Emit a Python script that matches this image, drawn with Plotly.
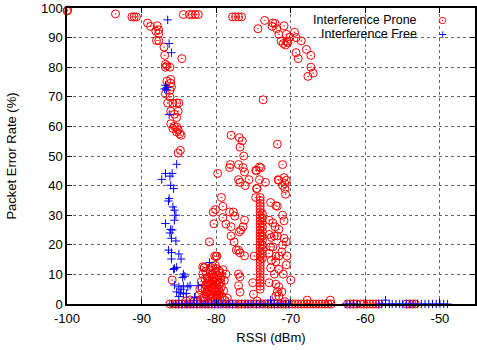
import plotly.graph_objects as go

# ---------------- data ----------------
prone_x = [
    -100.0, -99.9, -93.5, -91.3, -91.0, -90.7,
    -89.2, -88.8, -87.9, -87.7, -88.1, -87.7, -88.0, -87.7,
    -87.0, -86.9, -84.6, -86.8, -86.6, -86.8, -86.2,
    -86.1, -86.6, -86.1, -86.0, -86.2, -86.8, -86.2,
    -86.5, -85.8, -85.3, -85.0, -86.1, -85.1, -85.6, -85.3,
    -86.1, -85.6, -85.8, -85.3, -85.1, -85.3, -84.9, -84.7,
    -85.1, -84.8,
    -84.4, -83.6, -83.2, -82.8, -82.4,
    -77.8, -77.4, -77.0, -76.6,
    -74.4, -73.5, -72.4, -72.1, -72.5, -71.9, -71.6, -70.9, -70.6, -71.3, -70.5,
    -71.0, -70.7, -70.4, -70.1, -69.5, -69.3, -68.6, -69.3, -69.0, -67.9, -67.3,
    -67.3, -67.0, -67.7, -73.7,
    -78.0, -76.9, -76.5, -76.8, -76.3, -71.8,
    -78.1, -78.2, -77.0, -76.4, -71.1, -79.8, -74.6, -74.0, -77.0, -76.8, -76.1,
    -75.6, -74.2, -73.4, -74.5, -71.7, -71.1, -70.8, -70.7, -79.3, -79.1, -80.1,
    -80.4, -80.3, -78.2, -77.7, -77.5, -79.1, -78.7, -78.0, -76.2, -76.4, -76.7,
    -76.9, -78.0, -77.6, -80.9, -77.3, -77.0, -76.8, -76.2, -74.9, -80.2, -79.9,
    -81.6, -78.7, -77.0, -76.8, -77.0, -76.8, -75.1, -75.0, -76.2, -74.6,
    -74.1, -74.1, -74.1, -74.1, -74.1, -74.1, -74.1, -74.1, -74.1, -74.1, -74.1,
    -74.1, -74.1, -74.1, -74.1, -74.1, -74.1, -74.1, -74.1, -74.1, -74.1, -74.1,
    -74.1, -74.1, -74.1, -74.1, -74.1, -74.1, -74.1, -74.1, -74.1, -74.1,
    -73.8, -73.8, -73.8, -73.8, -73.8, -73.8, -73.8, -73.8, -73.8, -73.8, -73.8,
    -74.7, -72.7, -72.0, -71.8, -71.1, -70.9, -72.9, -72.4, -72.1, -71.6, -72.9,
    -72.6, -72.2, -71.8, -70.9, -70.6, -71.1, -72.7, -72.4, -72.9, -72.0, -71.6,
    -71.2, -70.5, -72.6, -72.0, -70.6, -72.7, -71.6, -72.2, -71.0, -70.0, -72.9,
    -72.0, -71.6, -71.8, -71.2, -72.0, -71.6, -70.9, -70.6, -70.8, -71.6, -74.7,
    -74.2,
    -81.8, -81.5, -81.2, -80.8, -80.5, -80.3, -80.1, -79.9, -79.7, -79.5, -80.6,
    -80.9, -81.3, -81.7, -82.1, -80.4, -79.8, -79.3, -79.6, -80.0, -80.7, -81.0,
    -79.4, -79.2, -80.2, -80.8, -81.9, -82.3, -79.1, -79.9, -80.4, -81.1, -80.6,
    -79.6, -82.5, -83.0, -83.5, -84.0, -78.8, -78.5, -79.3, -80.0, -81.4, -85.9,
    -81.6, -80.0,
    -81.6, -81.3, -81.0, -80.7, -80.4, -80.1, -79.8, -79.5, -81.5, -81.2, -80.9,
    -80.6, -80.3, -80.0, -79.7, -79.4, -81.4, -81.1, -80.8, -80.5, -80.2, -79.9,
    -79.6, -82.0, -82.2, -81.8, -79.0, -78.9, -80.5, -80.1,
    -86.2, -85.8, -85.4, -85.0, -84.6, -84.2, -83.8, -83.4, -83.0, -82.6, -82.2,
    -81.8, -81.4, -81.0, -80.6, -80.2, -79.8, -79.4, -79.0, -78.6, -78.2, -77.8,
    -77.4, -77.0, -76.6, -76.2, -75.8, -75.4, -75.0, -74.6, -74.2, -73.8, -73.4,
    -73.0, -72.6, -72.2, -71.8, -71.4, -71.0, -70.6, -70.2, -69.8, -69.4, -69.0,
    -68.6, -68.2, -67.8, -67.4, -67.0, -66.6, -66.2, -65.8, -65.4, -65.0, -64.6,
    -62.4, -62.0, -61.6, -61.2, -60.6, -60.2, -59.8, -59.4, -59.0, -58.6, -58.2,
    -54.5, -54.1, -53.7, -53.3,
    -67.8, -64.7, -74.5, -70.8,
]
prone_y = [
    99.0, 99.3, 98.0, 97.0, 97.0, 97.0,
    94.9, 93.8, 94.0, 92.6, 92.2, 91.3, 89.0, 89.0,
    86.8, 84.0, 82.9, 81.0, 80.5, 80.0, 80.0,
    75.9, 75.3, 74.6, 73.3, 72.2, 71.0, 69.9,
    67.9, 67.9, 67.9, 67.9, 65.1, 65.1, 64.1, 63.0,
    60.9, 60.0, 59.3, 59.8, 58.8, 58.1, 57.5, 57.0,
    51.0, 51.9,
    97.8, 97.8, 97.8, 97.8, 97.8,
    97.0, 97.0, 97.0, 97.0,
    93.0, 95.8, 94.9, 94.8, 93.8, 93.0, 91.1, 94.0, 91.1, 88.8, 88.8,
    88.0, 87.5, 88.3, 90.2, 91.8, 90.0, 88.9, 84.9, 82.9, 86.0, 84.0,
    80.0, 78.0, 76.9, 69.0,
    57.0, 56.2, 55.1, 53.0, 50.0, 54.0,
    47.1, 46.1, 47.1, 46.1, 47.1, 44.1, 45.0, 46.0, 42.0, 41.1, 40.0,
    42.0, 42.0, 41.1, 39.0, 42.0, 40.1, 39.0, 37.1, 36.0, 33.0, 31.9,
    31.0, 27.1, 31.1, 31.1, 29.7, 29.2, 27.0, 26.1, 28.3, 26.1, 25.0,
    24.4, 23.0, 21.0, 21.0, 18.2, 18.2, 17.3, 16.3, 16.2, 16.2, 16.2,
    12.4, 10.1, 10.1, 9.2, 6.2, 4.0, 7.2, 3.3, 44.6, 39.0,
    36.0, 35.0, 34.0, 33.0, 32.0, 31.0, 30.0, 29.0, 28.0, 27.0, 26.0,
    25.0, 24.0, 23.0, 22.0, 21.0, 20.0, 19.0, 18.0, 17.0, 16.0, 15.0,
    14.0, 13.0, 12.0, 11.0, 10.0, 9.0, 8.0, 7.0, 6.0, 5.0,
    30.5, 29.0, 27.5, 26.0, 24.5, 23.0, 21.5, 20.0, 18.5, 17.0, 15.5,
    36.0, 34.3, 33.2, 33.0, 30.0, 28.1, 28.3, 27.4, 26.1, 25.2, 23.5,
    22.5, 23.0, 23.0, 22.2, 21.0, 19.9, 19.3, 19.3, 17.1, 16.2, 16.2,
    17.6, 16.2, 14.8, 14.3, 13.2, 12.2, 11.7, 10.1, 10.1, 8.1, 7.2,
    6.7, 5.8, 4.1, 4.1, 2.7, 2.7, 42.7, 41.8, 40.7, 41.8, 45.2,
    46.3,
    10.1, 8.5, 7.0, 11.5, 10.0, 8.8, 7.5, 6.3, 5.0, 3.8, 5.8,
    4.5, 3.2, 2.1, 1.4, 2.6, 1.8, 9.5, 11.2, 12.0, 12.3, 9.2,
    7.3, 2.5, 4.1, 1.5, 5.4, 3.0, 11.6, 9.7, 6.5, 6.0, 3.4,
    4.4, 1.2, 0.8, 1.4, 1.0, 1.2, 2.0, 5.9, 3.0, 11.0, 8.1,
    12.2, 16.0,
    2.2, 4.0, 2.9, 6.8, 9.1, 10.9, 8.2, 10.4, 5.1, 8.9, 7.8,
    9.9, 5.2, 6.9, 3.1, 8.6, 6.4, 4.8, 3.0, 7.9, 1.1, 2.4,
    7.0, 7.6, 4.9, 12.6, 4.5, 8.0, 12.8, 13.0,
    0, 0, 0, 0, 0, 0, 0, 0, 0, 0, 0,
    0, 0, 0, 0, 0, 0, 0, 0, 0, 0, 0,
    0, 0, 0, 0, 0, 0, 0, 0, 0, 0, 0,
    0, 0, 0, 0, 0, 0, 0, 0, 0, 0, 0,
    0, 0, 0, 0, 0, 0, 0, 0, 0, 0, 0,
    0, 0, 0, 0, 0, 0, 0, 0, 0, 0, 0,
    0, 0, 0, 0,
    1.3, 1.3, 1.0, 0.8,
]

free_x = [
    -86.5, -86.3, -86.0, -86.8, -86.6, -86.9, -86.7, -86.3, -85.3, -86.8, -86.2,
    -85.9, -87.3, -86.1, -85.7, -86.3, -86.4, -85.8, -85.6, -85.4, -85.6, -86.8,
    -86.1, -85.9, -86.2, -86.0, -85.4, -86.4, -86.0, -86.0, -84.7, -85.6, -85.3,
    -84.4, -84.5, -80.9, -85.6, -85.0, -84.7, -84.4, -83.8, -83.5, -82.4, -85.3,
    -84.8, -84.4, -85.0, -84.0, -82.9, -85.7, -84.2, -85.0,
    -86.0, -85.5, -85.1, -84.6, -84.0, -83.5, -83.1, -82.6, -82.0, -81.5, -81.1,
    -80.6, -80.2, -79.7, -79.2, -78.7, -78.3, -77.8, -77.2, -76.6, -76.1, -75.7,
    -75.2, -74.6, -74.1, -73.6, -73.1, -72.6, -72.2, -71.7, -71.2, -70.7, -70.3,
    -62.6, -62.1, -61.6, -61.1,
    -58.2, -57.8, -57.3, -56.8, -56.4, -55.9, -55.4, -55.0, -54.5, -54.0, -53.5,
    -53.0, -52.5, -52.0, -51.5, -51.0, -50.5, -50.0, -49.5, -49.0,
    -72.7, -57.3,
]
free_y = [
    96.0, 88.0, 84.9, 73.9, 73.1, 72.7, 72.4, 64.0, 47.2, 44.1, 43.2,
    44.1, 42.1, 40.1, 39.0, 35.6, 34.8, 32.8, 31.7, 30.0, 28.3, 27.2,
    25.2, 25.0, 24.0, 22.2, 21.3, 18.2, 17.4, 15.2, 15.2, 12.0, 12.4,
    10.1, 9.0, 14.0, 6.4, 5.8, 5.0, 6.1, 5.8, 6.2, 6.2, 4.1,
    3.8, 3.4, 2.5, 3.6, 2.3, 11.7, 9.4, 16.9,
    0, 0, 0, 0, 0, 0, 0, 0, 0, 0, 0,
    0, 0, 0, 0, 0, 0, 0, 0, 0, 0, 0,
    0, 0, 0, 0, 0, 0, 0, 0, 0, 0, 0,
    0, 0, 0, 0,
    0, 0, 0, 0, 0, 0, 0, 0, 0, 0, 0,
    0, 0, 0, 0, 0, 0, 0, 0, 0,
    1.3, 1.3,
]

x_ticks = [-100, -90, -80, -70, -60, -50]
x_tick_labels = ["-100", "-90", "-80", "-70", "-60", "-50"]
y_ticks = [0, 10, 20, 30, 40, 50, 60, 70, 80, 90, 100]
series_names = ["Interference Prone", "Interference Free"]

# ---------------- figure ----------------
FONT = "Liberation Sans, Arial, Helvetica, sans-serif"
fig = go.Figure()
fig.add_trace(go.Scatter(
    x=prone_x, y=prone_y, mode="markers", name=series_names[0],
    marker=dict(symbol="circle-open-dot", size=8, color="#ff0000",
                line=dict(width=1, color="#ff0000")),
    cliponaxis=False, showlegend=False,
))
fig.add_trace(go.Scatter(
    x=free_x, y=free_y, mode="markers", name=series_names[1],
    marker=dict(symbol="cross-thin-open", size=6, color="#0000ff",
                line=dict(width=1, color="#0000ff")),
    cliponaxis=False, showlegend=False,
))

axis_common = dict(
    showline=True, linecolor="black", linewidth=1.5, mirror="ticks",
    ticks="inside", ticklen=5, tickcolor="black", tickwidth=1,
    showgrid=True, gridcolor="#666666", griddash="dot", gridwidth=1,
    zeroline=False,
)
fig.update_xaxes(range=[-100, -45.3], tickvals=x_ticks, ticktext=x_tick_labels,
                 tickfont=dict(family=FONT, size=13, color="black"),
                 ticklabelstandoff=2,
                 title=dict(text="RSSI (dBm)", font=dict(family=FONT, size=13, color="black"),
                            standoff=8),
                 **axis_common)
fig.update_yaxes(range=[0, 100], tickvals=y_ticks,
                 tickfont=dict(family=FONT, size=13, color="black"),
                 title=dict(text="Packet Error Rate (%)",
                            font=dict(family=FONT, size=13, color="black"), standoff=21),
                 **axis_common)

# legend drawn gnuplot-style: right-aligned label, key symbol to its right
legend_rows = [(series_names[0], "⊙", "#ff0000", 95.8),
               (series_names[1], "+", "#0000ff", 91.05)]
for name, sym, col, yy in legend_rows:
    fig.add_annotation(xref="x", yref="y", x=-53.0, y=yy, text=name,
                       showarrow=False, xanchor="right", yanchor="middle",
                       borderpad=0, font=dict(family=FONT, size=12.5, color="black"))
    fig.add_annotation(xref="x", yref="y", x=-49.6, y=yy, text=sym,
                       showarrow=False, xanchor="center", yanchor="middle",
                       borderpad=0, font=dict(family="DejaVu Sans", size=11, color=col))

fig.update_layout(
    width=477, height=350,
    margin=dict(l=67, r=0, t=8, b=46),
    paper_bgcolor="white", plot_bgcolor="white",
    font=dict(family=FONT, size=13, color="black"),
)
fig.write_html("out.html")
